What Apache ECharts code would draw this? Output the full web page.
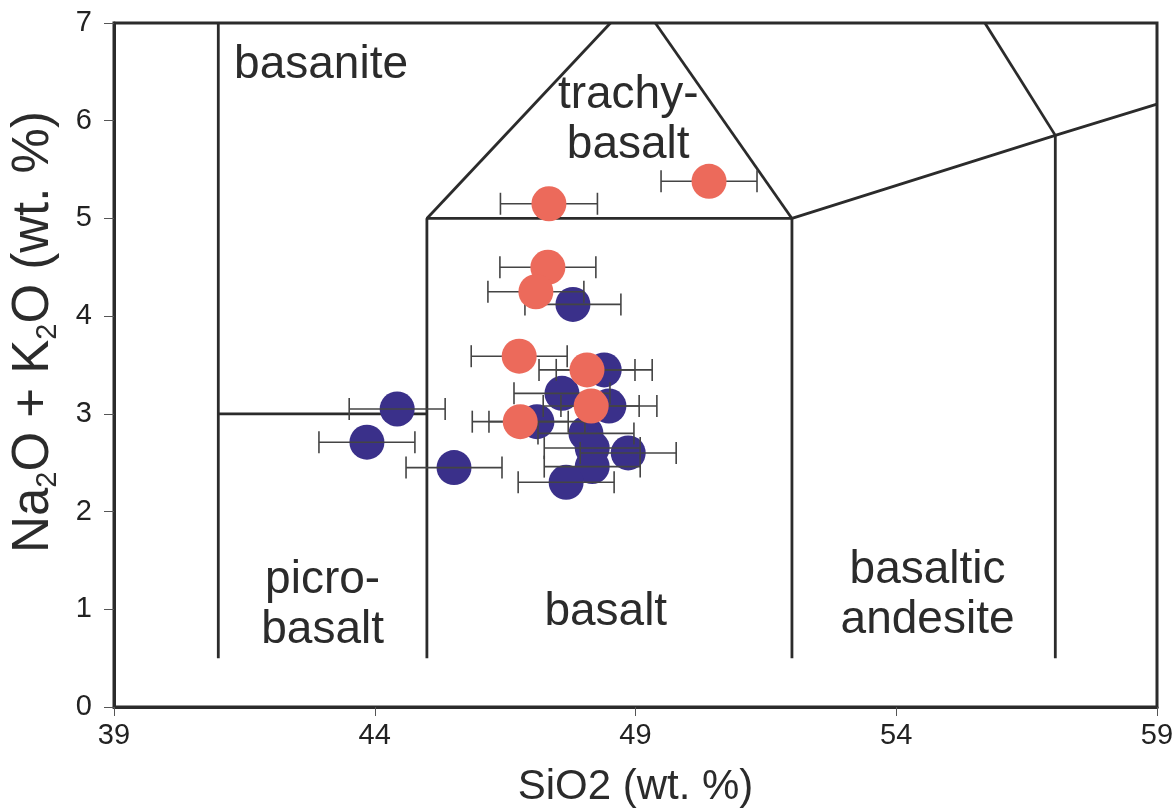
<!DOCTYPE html>
<html><head><meta charset="utf-8">
<script src="https://cdn.jsdelivr.net/npm/echarts@6/dist/echarts.min.js"></script>
<style>html,body{margin:0;padding:0;background:#fff}#c{width:1176px;height:811px}</style>
</head><body><div id="c"></div>
<script>
// ---- data ----
const blueSiO2 = [47.80, 44.43, 43.85, 45.52, 48.40, 47.59, 48.49, 47.11, 48.05, 48.17, 48.86, 48.17, 47.67];
const blueAlk  = [4.12, 3.05, 2.71, 2.45, 3.45, 3.21, 3.08, 2.92, 2.80, 2.65, 2.60, 2.46, 2.30];
const blueErr  = [0.92, 0.92, 0.92, 0.92, 0.92, 0.92, 0.92, 0.92, 0.92, 0.92, 0.92, 0.92, 0.92];
const redSiO2  = [50.41, 47.34, 47.32, 47.09, 46.77, 48.07, 48.15, 46.79];
const redAlk   = [5.38, 5.15, 4.50, 4.25, 3.59, 3.45, 3.08, 2.92];
const redErr   = [0.92, 0.93, 0.92, 0.92, 0.92, 0.92, 0.92, 0.92];

// TAS field boundaries (SiO2, Na2O+K2O)
const fieldLines = [
  [[41, 0.5], [41, 7]],
  [[41, 3], [45, 3]],
  [[45, 0.5], [45, 5], [52, 5], [52, 0.5]],
  [[45, 5], [48.52, 7]],
  [[49.38, 7], [52, 5]],
  [[52, 5], [57.05, 5.85], [59, 6.17]],
  [[57.05, 5.85], [57.05, 0.5]],
  [[57.05, 5.85], [55.7, 7]]
];
const fieldNames = ['basanite', 'trachy-\nbasalt', 'picro-\nbasalt', 'basalt', 'basaltic\nandesite'];
const fieldNameX = [42.97, 48.86, 43.0, 48.43, 54.6];
const fieldNameY = [6.57, 6.0, 1.04, 0.97, 1.14];

const xMin = 39, xMax = 59, xStep = 5;
const yMin = 0, yMax = 7, yStep = 1;

const BLUE = '#3a308a', RED = '#ec6a5b', INK = '#2b2b2b';
const FONT = '"Liberation Sans", Arial, Helvetica, sans-serif';

function zip3(a, b, c) { return a.map((v, i) => [v, b[i], c[i]]); }

function errRender(params, api) {
  const x = api.value(0), y = api.value(1), e = api.value(2);
  const p1 = api.coord([x - e, y]);
  const p2 = api.coord([x + e, y]);
  const h = 11;
  const st = { stroke: '#444', lineWidth: 1.6 };
  return {
    type: 'group',
    children: [
      { type: 'line', shape: { x1: p1[0], y1: p1[1], x2: p2[0], y2: p2[1] }, style: st },
      { type: 'line', shape: { x1: p1[0], y1: p1[1] - h, x2: p1[0], y2: p1[1] + h }, style: st },
      { type: 'line', shape: { x1: p2[0], y1: p2[1] - h, x2: p2[0], y2: p2[1] + h }, style: st }
    ]
  };
}

const series = [];
fieldLines.forEach((pts) => {
  series.push({
    type: 'line', data: pts, symbol: 'none', silent: true, z: 2,
    lineStyle: { color: INK, width: 2.8 }, animation: false
  });
});
series.push({
  type: 'scatter', z: 3, symbol: 'circle', symbolSize: 0, silent: true, animation: false,
  itemStyle: { opacity: 1, color: INK },
  data: fieldNames.map((n, i) => ({ name: n, value: [fieldNameX[i], fieldNameY[i]] })),
  label: {
    show: true, position: 'inside', formatter: '{b}', color: INK, opacity: 1,
    textBorderWidth: 0, textBorderColor: 'transparent',
    fontFamily: FONT, fontSize: 46, lineHeight: 50, align: 'center', verticalAlign: 'middle'
  }
});
series.push({
  type: 'scatter', z: 4, symbol: 'circle', symbolSize: 35, animation: false,
  itemStyle: { color: BLUE, opacity: 1 },
  data: blueSiO2.map((v, i) => [v, blueAlk[i]])
});
series.push({
  type: 'custom', z: 5, renderItem: errRender, animation: false,
  data: zip3(blueSiO2, blueAlk, blueErr)
});
series.push({
  type: 'custom', z: 5, renderItem: errRender, animation: false,
  data: zip3(redSiO2, redAlk, redErr)
});
series.push({
  type: 'scatter', z: 6, symbol: 'circle', symbolSize: 35, animation: false,
  itemStyle: { color: RED, opacity: 1 },
  data: redSiO2.map((v, i) => [v, redAlk[i]])
});

const chart = echarts.init(document.getElementById('c'), null, { renderer: 'canvas' });
chart.setOption({
  backgroundColor: '#fff',
  animation: false,
  grid: { left: 114, right: 19, top: 23, bottom: 104, outerBoundsMode: 'none', containLabel: false,
          show: true, borderColor: INK, borderWidth: 3, backgroundColor: 'transparent' },
  xAxis: {
    type: 'value', min: xMin, max: xMax, interval: xStep,
    name: 'SiO2 (wt. %)', nameLocation: 'middle', nameGap: 59,
    nameTextStyle: { fontFamily: FONT, fontSize: 42, color: INK },
    axisLine: { show: true, lineStyle: { color: INK, width: 3 } },
    axisTick: { show: true, length: 9, lineStyle: { color: '#555', width: 1 } },
    axisLabel: { fontFamily: FONT, fontSize: 29, color: '#222', margin: 14 },
    splitLine: { show: false }
  },
  yAxis: {
    type: 'value', min: yMin, max: yMax, interval: yStep,
    name: 'Na{sub|2}O + K{sub|2}O (wt. %)', nameLocation: 'middle', nameGap: 52,
    nameTextStyle: {
      fontFamily: FONT, fontSize: 51, color: INK, lineHeight: 56, padding: [0, 0, 0, 66],
      rich: { sub: { fontFamily: FONT, fontSize: 29, lineHeight: 29, verticalAlign: 'bottom', color: INK } }
    },
    axisLine: { show: true, lineStyle: { color: INK, width: 3 } },
    axisTick: { show: true, length: 10, lineStyle: { color: '#555', width: 1 } },
    axisLabel: { fontFamily: FONT, fontSize: 29, color: '#222', margin: 22 },
    splitLine: { show: false }
  },
  series: series
});
</script>
</body></html>
